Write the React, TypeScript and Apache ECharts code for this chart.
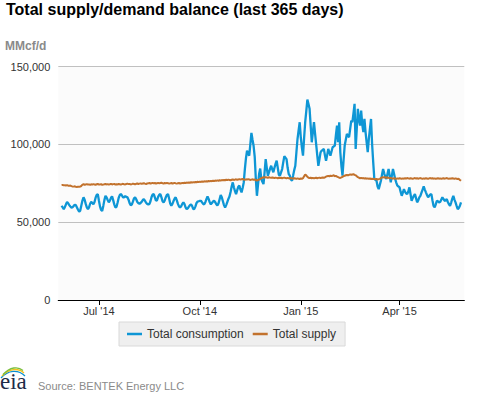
import React, { useEffect, useRef } from "react";
import * as echarts from "echarts";

// Daily values in thousand MMcf/d, 28 May 2014 .. 27 May 2015 (365 days)
const firstDay = "2014-05-28";
const axisStart = "2014-05-25";
const axisEnd = "2015-05-30";

const consumption = [
  60.6, 59.5, 58.4, 59.8, 61.5, 63.0, 62.2,
  61.0, 60.1, 59.4, 59.7, 60.5, 61.2, 61.0,
  59.5, 58.0, 56.8, 57.5, 60.8, 63.9, 66.0,
  64.5, 61.8, 59.5, 58.4, 59.6, 61.9, 63.1,
  62.4, 61.5, 63.0, 65.8, 67.6, 68.1, 64.0,
  60.2, 57.9, 57.3, 60.5, 64.2, 67.0, 66.0,
  64.3, 62.8, 63.9, 65.7, 66.6, 64.2, 61.5,
  59.5, 59.8, 62.5, 65.6, 67.4, 68.1, 67.2,
  66.0, 66.0, 66.8, 66.3, 66.0, 64.5, 62.3,
  61.0, 61.4, 63.2, 65.4, 66.0, 64.8, 63.0,
  62.3, 62.0, 62.3, 63.1, 64.3, 64.9, 63.8,
  62.5, 61.8, 61.5, 61.6, 63.5, 66.2, 67.8,
  68.1, 66.0, 63.8, 64.2, 66.3, 67.7, 68.1,
  66.0, 63.5, 62.8, 64.0, 66.1, 67.6, 68.1,
  65.2, 62.0, 60.6, 61.8, 63.6, 65.2, 66.0,
  64.1, 61.8, 60.2, 59.5, 60.3, 61.8, 62.8,
  61.6, 59.6, 58.4, 58.9, 60.0, 61.0, 61.5,
  60.4, 58.4, 58.6, 60.2, 62.4, 63.3, 63.5,
  63.7, 63.8, 62.8, 61.8, 61.5, 62.9, 64.8,
  66.6, 65.0, 62.8, 61.5, 62.3, 63.4, 63.8,
  62.9, 61.6, 60.8, 62.1, 64.8, 67.5, 66.0,
  63.5, 61.0, 59.5, 61.0, 63.0, 65.0, 66.5,
  69.5, 73.0, 75.6, 72.5, 70.0, 68.1, 70.5,
  72.8, 73.5, 71.0, 69.2, 72.0, 75.6, 84.0,
  91.0, 96.0, 94.0, 92.8, 100.0, 107.4, 103.0,
  99.0, 92.0, 78.0, 67.0, 74.0, 81.0, 84.5,
  77.8, 76.0, 74.5, 82.0, 90.6, 85.0, 79.9,
  82.0, 84.5, 86.3, 84.0, 82.1, 85.0, 87.5,
  89.6, 85.0, 80.5, 79.9, 82.0, 84.2, 88.5,
  92.4, 91.5, 90.6, 85.0, 81.0, 79.9, 77.5,
  76.7, 80.0, 83.5, 86.3, 95.0, 103.5, 109.0,
  114.3, 104.5, 98.0, 92.8, 104.0, 114.3, 121.5,
  128.9, 126.0, 122.9, 112.0, 101.4, 108.0, 114.3,
  107.0, 100.0, 93.0, 86.3, 90.5, 94.9, 96.0,
  96.5, 97.1, 93.0, 89.6, 93.0, 97.1, 95.0,
  92.8, 95.5, 98.2, 98.7, 99.3, 106.0, 112.1,
  101.4, 114.3, 95.0, 86.3, 79.9, 90.0, 99.3,
  103.0, 106.8, 105.5, 104.7, 110.0, 115.3, 114.3,
  120.0, 126.1, 97.1, 110.0, 122.9, 116.0, 112.1,
  121.8, 113.0, 107.9, 116.4, 108.0, 101.4, 95.0,
  103.6, 110.0, 116.4, 100.0, 88.5, 77.8, 77.2,
  76.7, 73.0, 71.3, 74.0, 76.7, 80.5, 84.2,
  81.5, 79.0, 77.8, 81.0, 84.2, 80.0, 75.6,
  80.0, 84.2, 81.0, 77.8, 75.5, 73.5, 73.0,
  72.4, 69.5, 67.0, 69.0, 71.3, 69.5, 68.5,
  68.1, 70.0, 72.4, 68.0, 63.8, 65.5, 67.0,
  68.1, 65.5, 62.8, 64.0, 66.0, 67.0, 69.0,
  71.0, 73.0, 71.0, 69.2, 67.5, 66.0, 67.0,
  67.8, 68.1, 64.0, 60.5, 59.5, 61.5, 63.8,
  63.5, 62.8, 63.0, 64.5, 66.0, 65.0, 63.8,
  64.0, 64.9, 63.0, 61.5, 60.6, 62.5, 65.0,
  67.0, 64.5, 62.8, 60.5, 58.4, 59.2, 60.6,
  62.8,
];

const supply = [
  73.9, 74.0, 73.7, 73.8, 73.6, 73.9, 73.5, 73.4, 73.6, 73.2,
  73.0, 72.9, 73.1, 72.8, 72.7, 72.9, 72.8, 73.0, 73.3, 74.2,
  74.4, 74.1, 74.3, 74.5, 74.2, 74.3, 74.0, 74.4, 74.2, 74.5,
  74.3, 74.1, 74.4, 74.6, 74.2, 74.3, 74.5, 74.0, 74.2, 74.4,
  74.6, 74.3, 74.5, 74.2, 74.4, 74.7, 74.3, 74.5, 74.6, 74.2,
  74.4, 74.3, 74.6, 74.4, 74.2, 74.5, 74.7, 74.4, 74.3, 74.6,
  74.8, 74.5, 74.6, 74.3, 74.5, 74.8, 74.6, 74.4, 74.7, 74.9,
  74.6, 74.8, 75.0, 74.7, 74.9, 75.1, 74.8, 74.6, 74.9, 75.0,
  75.2, 74.9, 75.1, 75.3, 75.0, 75.2, 74.9, 75.1, 75.3, 75.0,
  75.2, 75.4, 75.1, 74.9, 75.2, 75.0, 75.3, 75.1, 74.8, 75.0,
  75.2, 74.9, 75.1, 75.3, 75.0, 74.8, 75.1, 75.2, 74.9, 75.0,
  75.3, 75.1, 75.4, 75.2, 75.5, 75.3, 75.6, 75.4, 75.7, 75.5,
  75.8, 75.6, 75.9, 75.7, 76.0, 75.8, 76.1, 75.9, 76.2, 76.0,
  76.3, 76.1, 76.4, 76.2, 76.5, 76.3, 76.6, 76.4, 76.7, 76.5,
  76.8, 76.6, 76.9, 76.7, 77.0, 76.8, 77.1, 76.9, 77.2, 77.0,
  77.3, 77.1, 77.4, 77.2, 77.0, 77.3, 77.5, 77.2, 77.4, 77.6,
  77.3, 77.5, 77.7, 77.4, 77.6, 77.8, 77.5, 77.3, 77.6, 77.4,
  77.7, 77.5, 77.2, 77.4, 77.6, 77.3, 77.5, 77.0, 76.8, 77.2,
  77.4, 77.9, 78.3, 78.6, 78.9, 78.7, 79.0, 78.8, 78.6, 78.9,
  78.7, 78.5, 78.8, 78.6, 78.4, 78.7, 78.5, 78.3, 78.6, 78.4,
  78.6, 78.3, 78.5, 78.7, 78.4, 78.2, 78.5, 78.3, 78.1, 78.4,
  78.2, 78.0, 78.3, 78.1, 77.9, 78.2, 78.0, 77.8, 78.1, 77.9,
  78.3, 79.5, 80.6, 80.1, 79.2, 78.6, 78.4, 78.6, 78.3, 78.5,
  78.2, 78.4, 78.6, 78.3, 78.5, 78.7, 78.4, 78.6, 78.8, 78.5,
  78.9, 79.3, 79.6, 79.8, 79.5, 80.0, 79.7, 79.9, 80.2, 79.6,
  79.8, 79.4, 79.0, 78.6, 78.5, 78.8, 79.2, 79.6, 79.9, 80.2,
  80.4, 80.1, 80.5, 80.8, 80.4, 80.7, 80.9, 80.5, 80.2, 79.6,
  79.0, 78.6, 78.3, 78.5, 78.2, 78.4, 78.1, 78.3, 78.0, 78.2,
  77.9, 78.1, 77.8, 78.0, 77.7, 77.9, 77.6, 77.8, 77.5, 77.7,
  77.9, 78.4, 78.8, 79.0, 78.7, 78.9, 78.6, 78.8, 78.5, 78.3,
  78.5, 78.2, 78.0, 78.3, 78.1, 77.9, 78.2, 78.0, 78.3, 78.1,
  77.9, 78.2, 78.0, 78.3, 78.1, 78.4, 78.2, 78.0, 78.3, 78.1,
  77.9, 78.2, 78.4, 78.1, 78.3, 78.0, 78.2, 78.4, 78.1, 77.9,
  78.2, 78.0, 78.3, 78.1, 77.9, 78.2, 78.4, 78.1, 78.3, 78.0,
  78.2, 77.9, 78.1, 78.3, 78.0, 78.2, 77.9, 78.1, 78.3, 78.0,
  78.2, 78.4, 78.1, 77.9, 78.2, 78.0, 78.3, 78.1, 77.9, 78.2,
  78.0, 77.8, 77.9, 77.2, 76.6,
];

const tickDates = ["2014-07-01", "2014-10-01", "2015-01-01", "2015-04-01"];
const tickLabels = ["Jul '14", "Oct '14", "Jan '15", "Apr '15"];
const yTicks = [0, 50000, 100000, 150000];

const seriesNames = ["Total consumption", "Total supply"];
const colors = ["#0e96d5", "#c2722d"];

const FONT = '"Liberation Sans", Arial, sans-serif';

function isoDay(t: number) {
  return new Date(t).toISOString().slice(0, 10);
}

export default function App() {
  const ref = useRef<HTMLDivElement>(null);

  useEffect(() => {
    if (!ref.current) return;
    const chart = echarts.init(ref.current, undefined, { renderer: "svg" });

    const DAY = 86400000;
    const t0 = Date.parse(axisStart + "T00:00:00Z");
    const t1 = Date.parse(axisEnd + "T00:00:00Z");
    const tf = Date.parse(firstDay + "T00:00:00Z");
    const dates: string[] = [];
    for (let t = t0; t <= t1; t += DAY) dates.push(isoDay(t));
    const offset = Math.round((tf - t0) / DAY);

    const build = (vals: number[]) =>
      dates.map((_, i) => {
        const k = i - offset;
        return k >= 0 && k < vals.length ? Math.round(vals[k] * 1000) : null;
      });

    const isTick = (_i: number, v: string) => tickDates.indexOf(v) >= 0;

    chart.setOption({
      animation: false,
      backgroundColor: "#ffffff",
      title: {
        text: "Total supply/demand balance (last 365 days)",
        left: 6,
        top: 1,
        padding: 0,
        textStyle: { fontSize: 16, fontWeight: "bold", color: "#000", fontFamily: FONT },
      },
      grid: {
        left: 58.3,
        right: 12.7,
        top: 66.7,
        bottom: 93,
        show: true,
        backgroundColor: "#fbfbfb",
        borderWidth: 0,
      },
      legend: {
        data: seriesNames,
        left: 119,
        top: 322,
        icon: "rect",
        itemWidth: 15,
        itemHeight: 2.5,
        itemGap: 9,
        padding: [6, 9, 6, 8],
        backgroundColor: "#efefef",
        borderColor: "#d9d9d9",
        borderWidth: 1,
        textStyle: { fontSize: 12, color: "#333", fontFamily: FONT },
      },
      xAxis: {
        type: "category",
        data: dates,
        boundaryGap: false,
        axisLine: { lineStyle: { color: "#000", width: 1.2 } },
        axisTick: { show: true, interval: isTick, length: 5, lineStyle: { color: "#000" } },
        axisLabel: {
          interval: isTick,
          formatter: (v: string) => tickLabels[tickDates.indexOf(v)] ?? "",
          color: "#333",
          fontSize: 11,
          fontFamily: FONT,
          margin: 5,
        },
        splitLine: { show: false },
      },
      yAxis: {
        type: "value",
        min: yTicks[0],
        max: yTicks[yTicks.length - 1],
        interval: yTicks[1] - yTicks[0],
        axisLine: { show: false },
        axisTick: { show: false },
        axisLabel: {
          formatter: (v: number) => v.toLocaleString("en-US"),
          color: "#333",
          fontSize: 11,
          fontFamily: FONT,
          margin: 8,
          padding: [5, 0, 0, 0],
        },
        splitLine: { lineStyle: { color: "#c0c0c0", width: 1 } },
      },
      series: [
        {
          name: seriesNames[0],
          type: "line",
          data: build(consumption),
          showSymbol: false,
          symbol: "none",
          color: colors[0],
          lineStyle: { color: colors[0], width: 2.3 },
        },
        {
          name: seriesNames[1],
          type: "line",
          data: build(supply),
          showSymbol: false,
          symbol: "none",
          color: colors[1],
          lineStyle: { color: colors[1], width: 2 },
        },
      ],
      graphic: [
        {
          type: "text",
          left: 5,
          top: 40,
          style: { text: "MMcf/d", fontSize: 12, fontWeight: "bold", fill: "#8a8a8a", fontFamily: FONT },
        },
        {
          type: "text",
          x: 38,
          y: 386,
          style: {
            text: "Source: BENTEK Energy LLC",
            fontSize: 11,
            fill: "#8a8a8a",
            fontFamily: FONT,
            verticalAlign: "middle",
          },
        },
        {
          type: "text",
          x: 0,
          y: 393,
          style: {
            text: "eia",
            fontSize: 23,
            fill: "#1e2b48",
            fontFamily: '"Liberation Serif", "DejaVu Serif", serif',
            verticalAlign: "bottom",
          },
        },
        {
          type: "bezierCurve",
          shape: { x1: 1, y1: 378, cpx1: 8, cpy1: 370, cpx2: 18, cpy2: 369, x2: 25, y2: 376 },
          style: { stroke: "#0b8fd0", lineWidth: 1.3, fill: "none" },
        },
        {
          type: "bezierCurve",
          shape: { x1: 2, y1: 376, cpx1: 9, cpy1: 368.5, cpx2: 18, cpy2: 367.5, x2: 24, y2: 373 },
          style: { stroke: "#f4c21b", lineWidth: 1.3, fill: "none" },
        },
        {
          type: "bezierCurve",
          shape: { x1: 3, y1: 374.5, cpx1: 10, cpy1: 367, cpx2: 18, cpy2: 366, x2: 23, y2: 370.5 },
          style: { stroke: "#7cbf3c", lineWidth: 1.3, fill: "none" },
        },
      ],
    });

    return () => chart.dispose();
  }, []);

  return (
    <div
      ref={ref}
      style={{ position: "fixed", left: 0, top: 0, width: 477, height: 393 }}
    />
  );
}
